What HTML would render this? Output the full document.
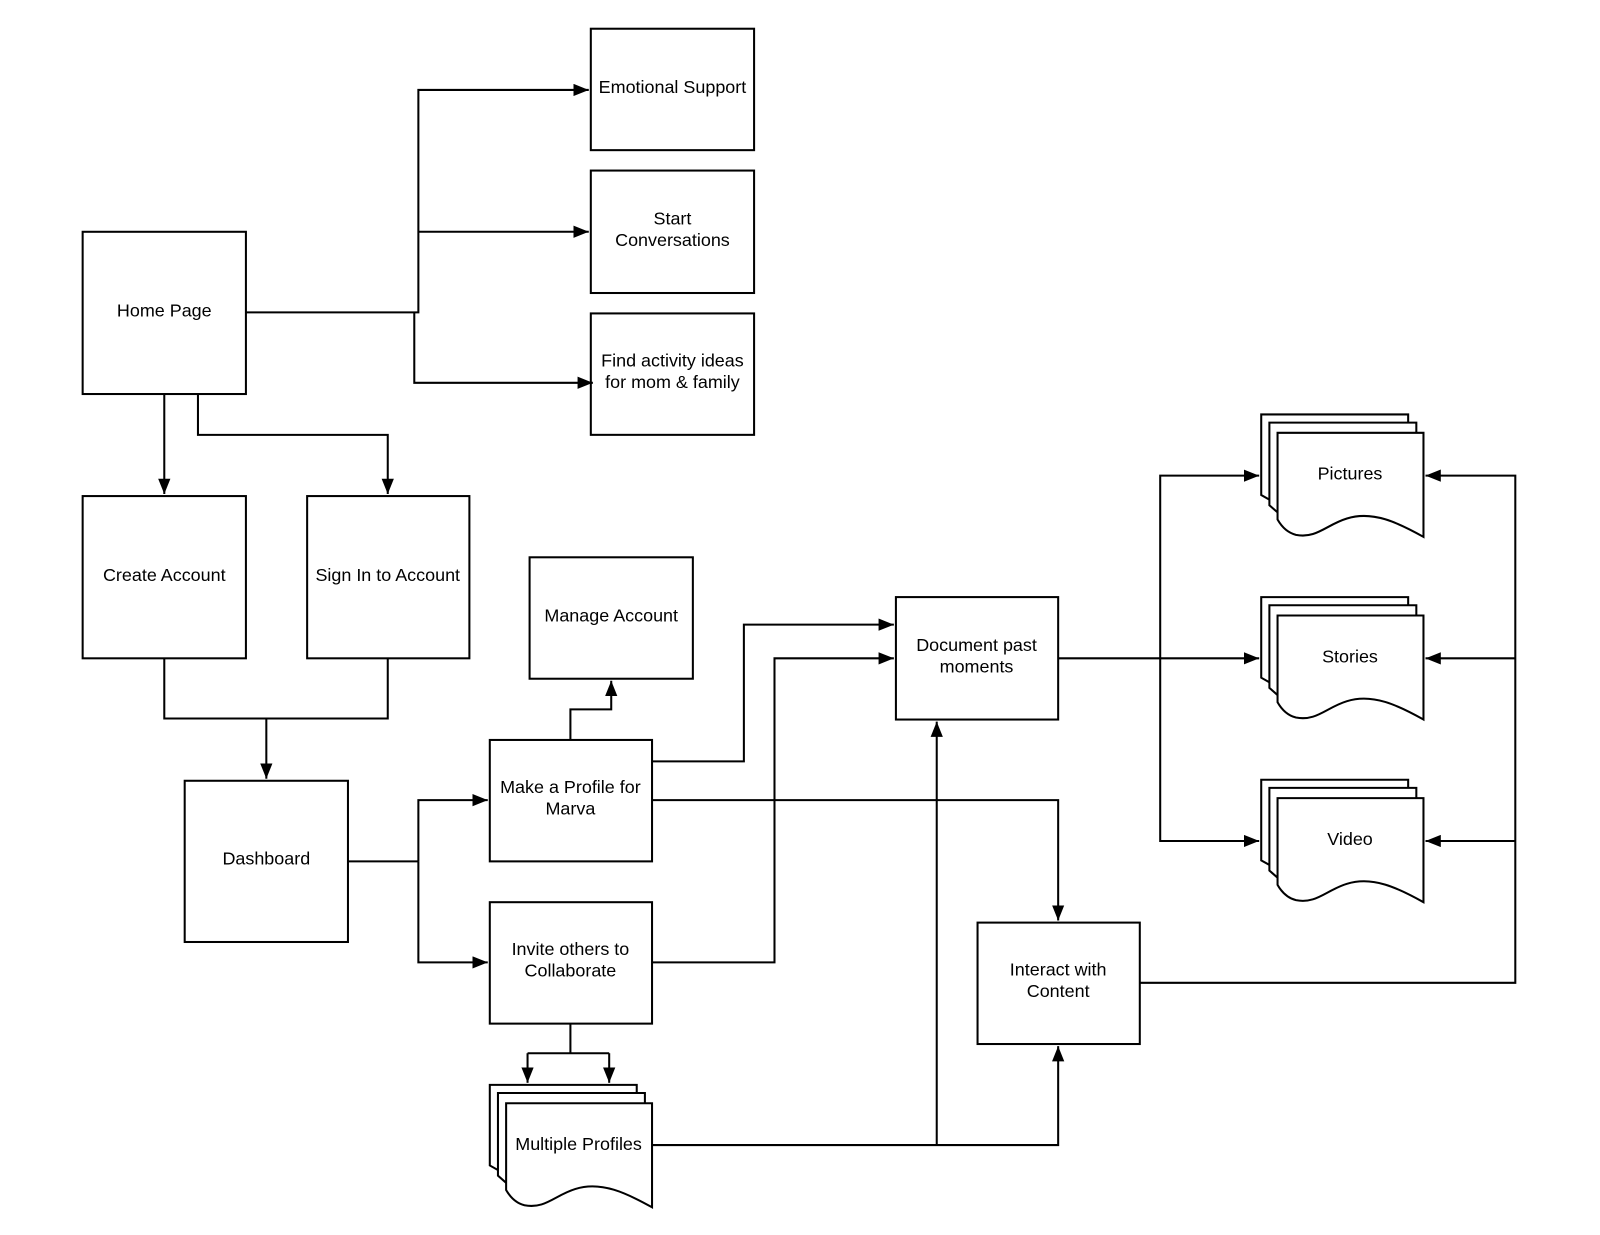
<!DOCTYPE html>
<html><head><meta charset="utf-8"><style>
html,body{margin:0;padding:0;background:#fff;}
svg{display:block;}
text{font-family:"Liberation Sans",Arial,sans-serif;font-size:17.6px;fill:#000;text-anchor:middle;}
</style></head><body>
<svg width="1600" height="1235" viewBox="0 0 1568 1210" xmlns="http://www.w3.org/2000/svg">
<defs>
<marker id="a" viewBox="0 0 15 12" refX="15" refY="6" markerWidth="15" markerHeight="12" markerUnits="userSpaceOnUse" orient="auto">
<path d="M0,0 L15,6 L0,12 z" fill="#000"/></marker>
</defs>
<g fill="#fff" stroke="#000" stroke-width="2">
<rect x="579" y="28" width="160" height="119"/>
<rect x="579" y="167" width="160" height="120"/>
<rect x="579" y="307" width="160" height="119"/>
<rect x="81" y="227" width="160" height="159"/>
<rect x="81" y="486" width="160" height="159"/>
<rect x="301" y="486" width="159" height="159"/>
<rect x="519" y="546" width="160" height="119"/>
<rect x="181" y="765" width="160" height="158"/>
<rect x="480" y="725" width="159" height="119"/>
<rect x="480" y="884" width="159" height="119"/>
<rect x="878" y="585" width="159" height="120"/>
<rect x="958" y="904" width="159" height="119"/>
</g>
<g fill="#fff" stroke="#000" stroke-width="2">
<g>
<path d="M1252,494 L1236,485 V406 H1380 V414"/>
<path d="M1252,502 L1244,495 V414 H1388 V424"/>
<path d="M1252,424 H1395 V526 C1370,512 1345,500 1320,508 C1300,514 1290,528 1270,524 C1262,522 1256,516 1252,509 Z"/>
</g>
<g transform="translate(0,179)"><path d="M1252,494 L1236,485 V406 H1380 V414"/>
<path d="M1252,502 L1244,495 V414 H1388 V424"/>
<path d="M1252,424 H1395 V526 C1370,512 1345,500 1320,508 C1300,514 1290,528 1270,524 C1262,522 1256,516 1252,509 Z"/></g>
<g transform="translate(0,358)"><path d="M1252,494 L1236,485 V406 H1380 V414"/>
<path d="M1252,502 L1244,495 V414 H1388 V424"/>
<path d="M1252,424 H1395 V526 C1370,512 1345,500 1320,508 C1300,514 1290,528 1270,524 C1262,522 1256,516 1252,509 Z"/></g>
<g transform="translate(-756,657)"><path d="M1252,494 L1236,485 V406 H1380 V414"/>
<path d="M1252,502 L1244,495 V414 H1388 V424"/>
<path d="M1252,424 H1395 V526 C1370,512 1345,500 1320,508 C1300,514 1290,528 1270,524 C1262,522 1256,516 1252,509 Z"/></g>
</g>
<g fill="none" stroke="#000" stroke-width="2">
<path d="M241,306 H410 V88 H577" marker-end="url(#a)"/>
<path d="M410,227 H577" marker-end="url(#a)"/>
<path d="M406,306 V375 H581" marker-end="url(#a)"/>
<path d="M161,386 V484" marker-end="url(#a)"/>
<path d="M194,386 V426 H380 V484" marker-end="url(#a)"/>
<path d="M161,645 V704 H380 V645"/>
<path d="M261,704 V763" marker-end="url(#a)"/>
<path d="M341,844 H410"/>
<path d="M410,844 V784 H478" marker-end="url(#a)"/>
<path d="M410,844 V943 H478" marker-end="url(#a)"/>
<path d="M559,725 V695 H599 V667" marker-end="url(#a)"/>
<path d="M639,746 H729 V612 H876" marker-end="url(#a)"/>
<path d="M639,943 H759 V645 H876" marker-end="url(#a)"/>
<path d="M639,784 H1037 V902" marker-end="url(#a)"/>
<path d="M639,1122 H1037 V1025" marker-end="url(#a)"/>
<path d="M918,1122 V707" marker-end="url(#a)"/>
<path d="M559,1003 V1032"/>
<path d="M517,1032 H597"/>
<path d="M517,1032 V1061" marker-end="url(#a)"/>
<path d="M597,1032 V1061" marker-end="url(#a)"/>
<path d="M1037,645 H1234" marker-end="url(#a)"/>
<path d="M1137,645 V466 H1234" marker-end="url(#a)"/>
<path d="M1137,645 V824 H1234" marker-end="url(#a)"/>
<path d="M1117,963 H1485 V466 H1397" marker-end="url(#a)"/>
<path d="M1485,645 H1397" marker-end="url(#a)"/>
<path d="M1485,824 H1397" marker-end="url(#a)"/>
</g>
<text x="659" y="91">Emotional Support</text>
<text x="659" y="220">Start</text>
<text x="659" y="241">Conversations</text>
<text x="659" y="359">Find activity ideas</text>
<text x="659" y="380">for mom &amp; family</text>
<text x="161" y="310">Home Page</text>
<text x="161" y="569">Create Account</text>
<text x="380" y="569">Sign In to Account</text>
<text x="599" y="609">Manage Account</text>
<text x="261" y="847">Dashboard</text>
<text x="559" y="777">Make a Profile for</text>
<text x="559" y="798">Marva</text>
<text x="559" y="936">Invite others to</text>
<text x="559" y="957">Collaborate</text>
<text x="957" y="638">Document past</text>
<text x="957" y="659">moments</text>
<text x="1037" y="956">Interact with</text>
<text x="1037" y="977">Content</text>
<text x="567" y="1127">Multiple Profiles</text>
<text x="1323" y="470">Pictures</text>
<text x="1323" y="649">Stories</text>
<text x="1323" y="828">Video</text>
</svg>
</body></html>
